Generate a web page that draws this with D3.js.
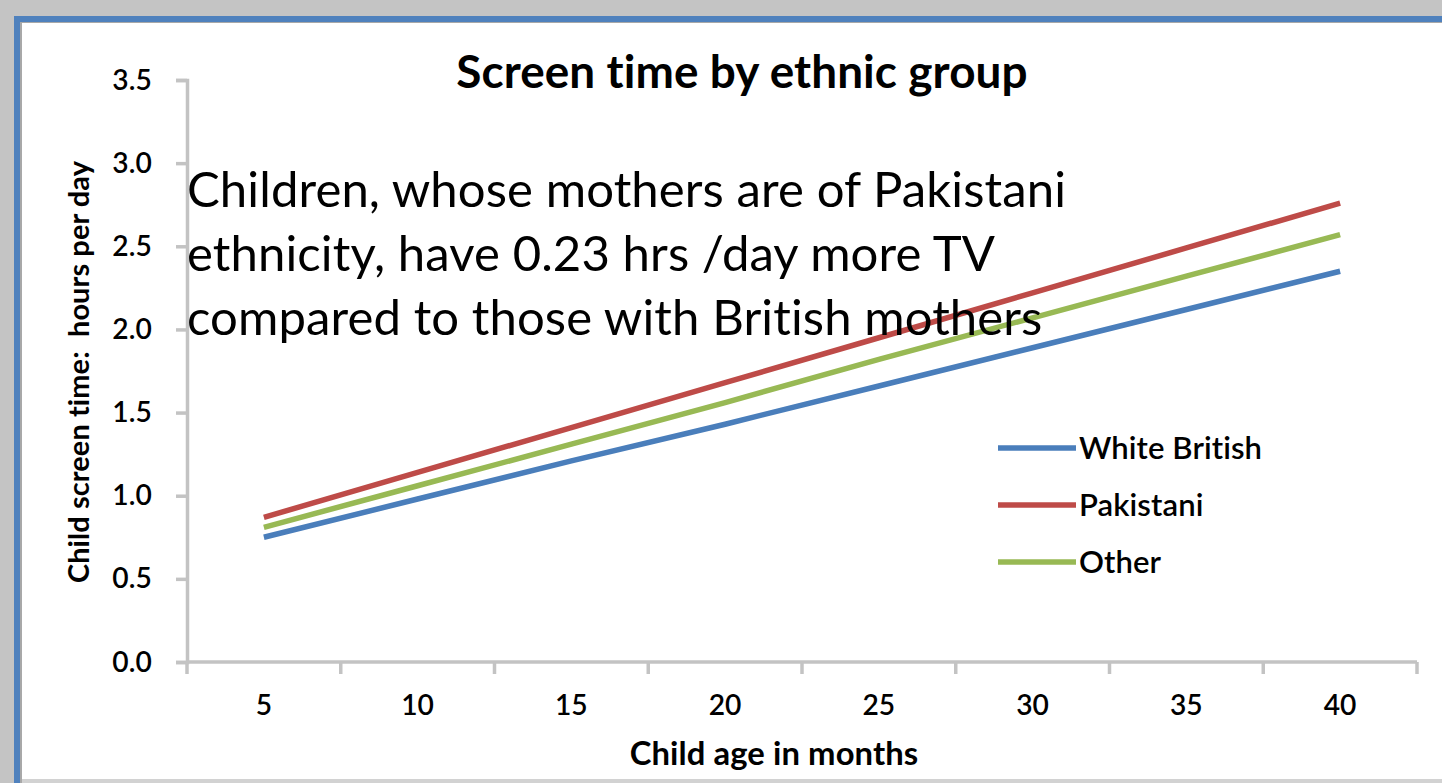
<!DOCTYPE html>
<html>
<head>
<meta charset="utf-8">
<script src="https://cdn.jsdelivr.net/npm/d3@7"></script>
<style>
  html, body { margin: 0; padding: 0; background: #c4c4c4; }
  svg { display: block; }
  text { font-family: Lato, "Open Sans", "DejaVu Sans", sans-serif; fill: #000;
         font-variant-ligatures: none; letter-spacing: 0.1px; }
</style>
</head>
<body>
<div id="cContainer"></div>
<script>
// chart data
var ages = [5, 10, 15, 20, 25, 30, 35, 40];
var whiteBritish = [0.75, 0.98, 1.21, 1.43, 1.66, 1.89, 2.12, 2.35];
var pakistani = [0.87, 1.14, 1.41, 1.68, 1.95, 2.22, 2.49, 2.76];
var other = [0.81, 1.06, 1.31, 1.56, 1.82, 2.07, 2.32, 2.57];
var seriesNames = ["White British", "Pakistani", "Other"];
var seriesColors = ["#4a7ebb", "#be4b48", "#98b954"];
var yTicks = [0, 0.5, 1, 1.5, 2, 2.5, 3, 3.5];
var note = ["Children, whose mothers are of Pakistani",
            "ethnicity, have 0.23 hrs /day more TV",
            "compared to those with British mothers"];

var width = 1442, height = 783;

// scale font size so a text fills the given width
function fitWidth(sel, w) {
	sel.each(function() {
		this.setAttribute("font-size", 20);
		var l = this.getComputedTextLength();
		this.setAttribute("font-size", 20 * w / l);
	});
}

var svg = d3.select("#cContainer").append("svg")
	.attr("width", width)
	.attr("height", height);

// window frame
svg.append("rect").attr("x", 0).attr("y", 0).attr("width", width).attr("height", height).attr("fill", "#c4c4c4");
svg.append("rect").attr("x", 14).attr("y", 16).attr("width", width - 14).attr("height", height - 16).attr("fill", "#4f81bd");
svg.append("rect").attr("x", 20).attr("y", 22).attr("width", width - 20).attr("height", height - 22).attr("fill", "#a8a8a8");
svg.append("rect").attr("x", 22).attr("y", 23).attr("width", width - 22).attr("height", height - 23).attr("fill", "#d2d2d2");
svg.append("rect").attr("x", 22).attr("y", 23).attr("width", width - 22).attr("height", 756).attr("fill", "#fff");

var x = d3.scaleBand().domain(ages).range([187, 1417]).padding(0);
var y = d3.scaleLinear().domain([0, 3.5]).range([662, 80]);
var cx = function(a) { return x(a) + x.bandwidth() / 2; };

// y axis
var yAxis = svg.append("g")
	.attr("transform", "translate(187,0)")
	.call(d3.axisLeft(y).tickValues(yTicks).tickSize(11).tickPadding(24).tickFormat(d3.format(".1f")));
yAxis.select(".domain").attr("stroke", "#c3c3c3").attr("stroke-width", 3.5);
yAxis.selectAll(".tick line").attr("stroke", "#c3c3c3").attr("stroke-width", 3.5);
yAxis.selectAll(".tick text").attr("font-weight", 600).attr("font-family", null);

// x axis (ticks between categories)
var xAxis = svg.append("g")
	.attr("transform", "translate(0,662)")
	.call(d3.axisBottom(x).tickSize(0).tickPadding(33));
xAxis.select(".domain").remove();
xAxis.selectAll(".tick text").attr("font-weight", 600).attr("font-family", null);
var fs = 0;
xAxis.selectAll(".tick text").filter(function(d) { return d === 10; }).call(fitWidth, 33).each(function() { fs = +this.getAttribute("font-size"); });
xAxis.selectAll(".tick text").attr("font-size", fs);
yAxis.selectAll(".tick text").attr("font-size", fs);

svg.append("line").attr("x1", 186).attr("x2", 1417).attr("y1", 662).attr("y2", 662)
	.attr("stroke", "#c3c3c3").attr("stroke-width", 3.5);
var bounds = ages.map(function(a) { return x(a); }).concat([x.range()[1]]);
svg.selectAll("line.xtick").data(bounds).enter().append("line")
	.attr("class", "xtick")
	.attr("x1", function(d) { return d; }).attr("x2", function(d) { return d; })
	.attr("y1", 662).attr("y2", 674)
	.attr("stroke", "#c3c3c3").attr("stroke-width", 3.5);

// series lines
var series = [whiteBritish, pakistani, other];
var line = d3.line()
	.x(function(d, i) { return cx(ages[i]); })
	.y(function(d) { return y(d); });
svg.selectAll("path.series").data(series).enter().append("path")
	.attr("class", "series")
	.attr("d", line)
	.attr("fill", "none")
	.attr("stroke", function(d, i) { return seriesColors[i]; })
	.attr("stroke-width", 5.5);

// legend
var legend = svg.selectAll("g.legend").data(seriesNames).enter().append("g")
	.attr("class", "legend")
	.attr("transform", function(d, i) { return "translate(998," + (448 + i * 57) + ")"; });
legend.append("line").attr("x1", 0).attr("x2", 78).attr("y1", 0).attr("y2", 0)
	.attr("stroke", function(d, i) { return seriesColors[i]; })
	.attr("stroke-width", 5.5);
var legText = legend.append("text")
	.attr("x", 81).attr("y", 0).attr("dy", "0.35em")
	.attr("font-weight", 600)
	.text(function(d) { return d; });
legText.filter(function(d, i) { return i === 0; }).call(fitWidth, 184);
var lfs = +legText.filter(function(d, i) { return i === 0; }).attr("font-size");
legText.attr("font-size", lfs);

// title and axis titles
svg.append("text").attr("x", 742).attr("y", 88).attr("text-anchor", "middle")
	.attr("font-weight", "bold").text("Screen time by ethnic group").call(fitWidth, 575);
svg.append("text").attr("x", 774).attr("y", 765).attr("text-anchor", "middle")
	.attr("font-weight", "bold").text("Child age in months").call(fitWidth, 290);
svg.append("text").attr("transform", "translate(89,372) rotate(-90)").attr("text-anchor", "middle")
	.attr("font-weight", "bold")
	.style("white-space", "pre")
	.text("Child screen time:  hours per day").call(fitWidth, 424);

// annotation overlay
var noteText = svg.selectAll("text.note").data(note).enter().append("text")
	.attr("class", "note")
	.attr("x", 187)
	.attr("y", function(d, i) { return 207 + i * 64; })
	.text(function(d) { return d; });
noteText.filter(function(d, i) { return i === 0; }).call(fitWidth, 885);
noteText.attr("font-size", noteText.filter(function(d, i) { return i === 0; }).attr("font-size"));
</script>
</body>
</html>
